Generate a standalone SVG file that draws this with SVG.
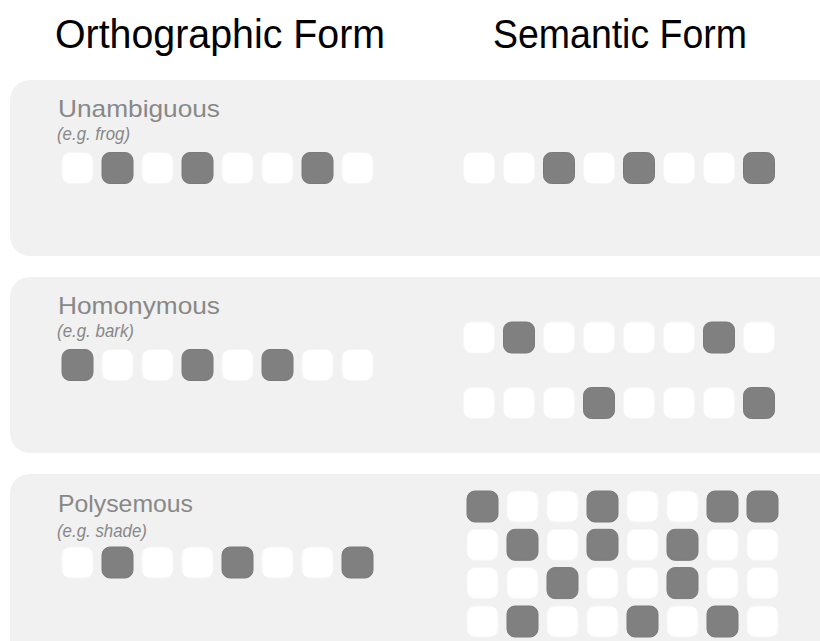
<svg xmlns="http://www.w3.org/2000/svg" width="820" height="641" viewBox="0 0 820 641">
<style>
.hdr{font-family:"Liberation Sans",Arial,sans-serif;font-size:40px;fill:#000}
.lbl{font-family:"Liberation Sans",Arial,sans-serif;font-size:24px;fill:#888}
.eg{font-family:"Liberation Sans",Arial,sans-serif;font-size:19px;font-style:italic;fill:#888}
.panel{fill:#f1f1f1}
.w{fill:#fff;stroke:#f6f6f6;stroke-width:1}
.d{fill:#808080;stroke:#7a7a7a;stroke-width:1}
</style>
<defs>
<rect id="sq" width="31" height="31" rx="8" ry="8"/>
</defs>
<rect width="820" height="641" fill="#fff"/>
<g id="headers">
<text class="hdr" x="55" y="48" textLength="330" lengthAdjust="spacingAndGlyphs">Orthographic Form</text>
<text class="hdr" x="493" y="48" textLength="254" lengthAdjust="spacingAndGlyphs">Semantic Form</text>
</g>
<g id="unambiguous">
<rect class="panel" x="10" y="80" width="850" height="176" rx="20"/>
<text class="lbl" x="58" y="117" textLength="162" lengthAdjust="spacingAndGlyphs">Unambiguous</text>
<text class="eg" x="57" y="140" textLength="73" lengthAdjust="spacingAndGlyphs">(e.g. frog)</text>
<g transform="translate(62,152.5)">
<use href="#sq" x="0" class="w"/><use href="#sq" x="40" class="d"/><use href="#sq" x="80" class="w"/><use href="#sq" x="120" class="d"/><use href="#sq" x="160" class="w"/><use href="#sq" x="200" class="w"/><use href="#sq" x="240" class="d"/><use href="#sq" x="280" class="w"/>
</g>
<g transform="translate(463.5,152.5)">
<use href="#sq" x="0" class="w"/><use href="#sq" x="40" class="w"/><use href="#sq" x="80" class="d"/><use href="#sq" x="120" class="w"/><use href="#sq" x="160" class="d"/><use href="#sq" x="200" class="w"/><use href="#sq" x="240" class="w"/><use href="#sq" x="280" class="d"/>
</g>
</g>
<g id="homonymous">
<rect class="panel" x="10" y="277" width="850" height="176" rx="20"/>
<text class="lbl" x="58" y="314" textLength="162" lengthAdjust="spacingAndGlyphs">Homonymous</text>
<text class="eg" x="57" y="337" textLength="77" lengthAdjust="spacingAndGlyphs">(e.g. bark)</text>
<g transform="translate(62,349.5)">
<use href="#sq" x="0" class="d"/><use href="#sq" x="40" class="w"/><use href="#sq" x="80" class="w"/><use href="#sq" x="120" class="d"/><use href="#sq" x="160" class="w"/><use href="#sq" x="200" class="d"/><use href="#sq" x="240" class="w"/><use href="#sq" x="280" class="w"/>
</g>
<g transform="translate(463.5,322)">
<use href="#sq" x="0" class="w"/><use href="#sq" x="40" class="d"/><use href="#sq" x="80" class="w"/><use href="#sq" x="120" class="w"/><use href="#sq" x="160" class="w"/><use href="#sq" x="200" class="w"/><use href="#sq" x="240" class="d"/><use href="#sq" x="280" class="w"/>
</g>
<g transform="translate(463.5,387.5)">
<use href="#sq" x="0" class="w"/><use href="#sq" x="40" class="w"/><use href="#sq" x="80" class="w"/><use href="#sq" x="120" class="d"/><use href="#sq" x="160" class="w"/><use href="#sq" x="200" class="w"/><use href="#sq" x="240" class="w"/><use href="#sq" x="280" class="d"/>
</g>
</g>
<g id="polysemous">
<rect class="panel" x="10" y="474" width="850" height="200" rx="20"/>
<text class="lbl" x="58" y="512" textLength="135" lengthAdjust="spacingAndGlyphs">Polysemous</text>
<text class="eg" x="57" y="537" textLength="90" lengthAdjust="spacingAndGlyphs">(e.g. shade)</text>
<g transform="translate(62,547)">
<use href="#sq" x="0" class="w"/><use href="#sq" x="40" class="d"/><use href="#sq" x="80" class="w"/><use href="#sq" x="120" class="w"/><use href="#sq" x="160" class="d"/><use href="#sq" x="200" class="w"/><use href="#sq" x="240" class="w"/><use href="#sq" x="280" class="d"/>
</g>
<g transform="translate(467,491)">
<use href="#sq" x="0" class="d"/><use href="#sq" x="40" class="w"/><use href="#sq" x="80" class="w"/><use href="#sq" x="120" class="d"/><use href="#sq" x="160" class="w"/><use href="#sq" x="200" class="w"/><use href="#sq" x="240" class="d"/><use href="#sq" x="280" class="d"/>
</g>
<g transform="translate(467,529.3)">
<use href="#sq" x="0" class="w"/><use href="#sq" x="40" class="d"/><use href="#sq" x="80" class="w"/><use href="#sq" x="120" class="d"/><use href="#sq" x="160" class="w"/><use href="#sq" x="200" class="d"/><use href="#sq" x="240" class="w"/><use href="#sq" x="280" class="w"/>
</g>
<g transform="translate(467,567.6)">
<use href="#sq" x="0" class="w"/><use href="#sq" x="40" class="w"/><use href="#sq" x="80" class="d"/><use href="#sq" x="120" class="w"/><use href="#sq" x="160" class="w"/><use href="#sq" x="200" class="d"/><use href="#sq" x="240" class="w"/><use href="#sq" x="280" class="w"/>
</g>
<g transform="translate(467,606)">
<use href="#sq" x="0" class="w"/><use href="#sq" x="40" class="d"/><use href="#sq" x="80" class="w"/><use href="#sq" x="120" class="w"/><use href="#sq" x="160" class="d"/><use href="#sq" x="200" class="w"/><use href="#sq" x="240" class="d"/><use href="#sq" x="280" class="w"/>
</g>
</g>
<g id="connectors"></g>
</svg>
